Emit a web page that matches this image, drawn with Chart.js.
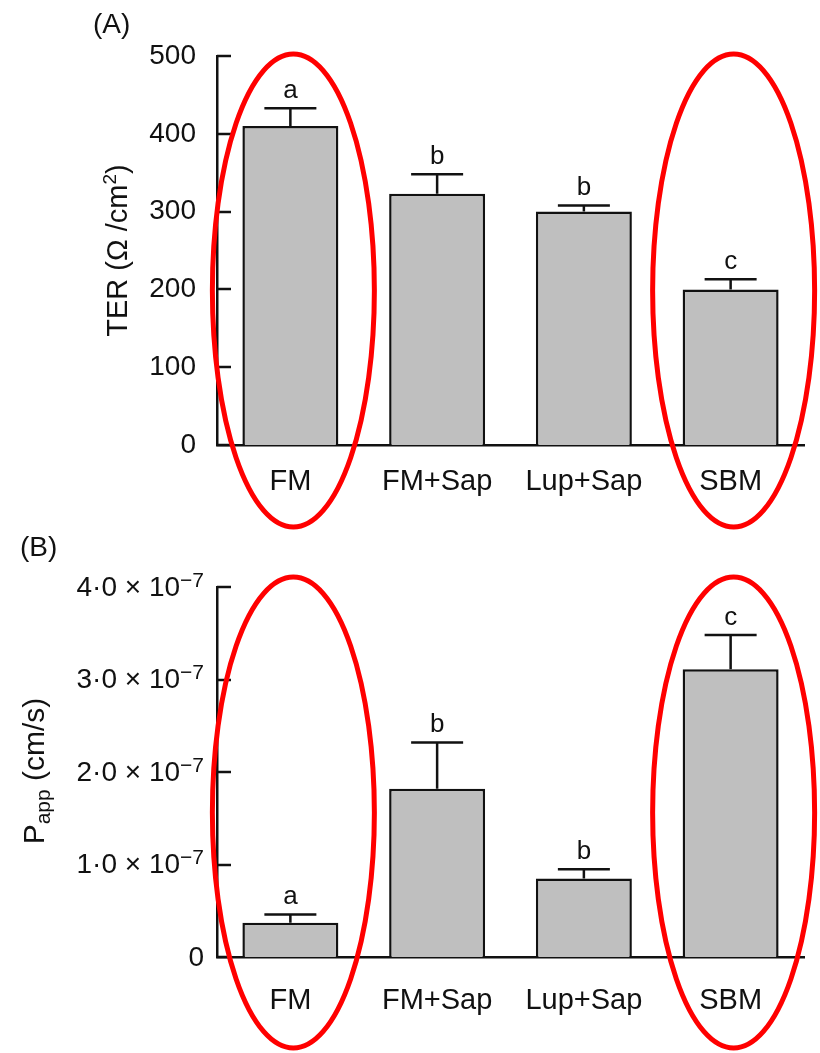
<!DOCTYPE html>
<html>
<head>
<meta charset="utf-8">
<script src="https://cdn.jsdelivr.net/npm/chart.js@4.4.1/dist/chart.umd.min.js"></script>
<style>
  html, body { margin: 0; padding: 0; background: #fff; }
  .panel { position: absolute; left: 0; }
  #panelA { top: 0; }
  #panelB { top: 530px; }
</style>
</head>
<body>
<div class="panel" id="panelA"><canvas id="chartA" width="820" height="530"></canvas></div>
<div class="panel" id="panelB"><canvas id="chartB" width="820" height="523"></canvas></div>
<script>
// categories and values
const categories = ['FM', 'FM+Sap', 'Lup+Sap', 'SBM'];

const terValues = [410, 323, 300, 200];
const terErrors = [23, 25, 8, 13];
const terLetters = ['a', 'b', 'b', 'c'];
const terTicks = ['0', '100', '200', '300', '400', '500'];

const pappValues = [0.37e-7, 1.82e-7, 0.85e-7, 3.11e-7];
const pappErrors = [0.09e-7, 0.50e-7, 0.10e-7, 0.37e-7];
const pappLetters = ['a', 'b', 'b', 'c'];
const pappTicks = ['0', '1·0', '2·0', '3·0', '4·0'];
const pappExponent = '−7';

// categories highlighted with a red ring
const ringed = ['FM', 'SBM'];

const FONT = "'Liberation Sans', Arial, Helvetica, sans-serif";
const INK = '#111';

Chart.defaults.font.family = FONT;
Chart.defaults.color = INK;

// draws the rich text pieces one after another (superscript / subscript)
const drawRuns = (ctx, runs, x, y, align) => {
  let total = 0;
  runs.forEach(r => {
    ctx.font = `${r.size}px ${FONT}`;
    r.w = ctx.measureText(r.text).width;
    total += r.w;
  });
  let cx = align === 'center' ? x - total / 2 : (align === 'right' ? x - total : x);
  ctx.textAlign = 'left';
  runs.forEach(r => {
    ctx.font = `${r.size}px ${FONT}`;
    ctx.fillText(r.text, cx, y + (r.dy || 0));
    cx += r.w;
  });
};

const decorPlugin = {
  id: 'decor',
  afterDatasetsDraw(chart, args, opts) {
    const ctx = chart.ctx;
    const y = chart.scales.y;
    const area = chart.chartArea;
    const meta = chart.getDatasetMeta(0);
    const values = chart.data.datasets[0].data;
    ctx.save();
    ctx.strokeStyle = INK;
    ctx.fillStyle = INK;
    ctx.lineWidth = 2.5;

    // error bars + significance letters
    meta.data.forEach((bar, i) => {
      const top = y.getPixelForValue(values[i] + opts.errors[i]);
      ctx.beginPath();
      ctx.moveTo(bar.x, bar.y);
      ctx.lineTo(bar.x, top);
      ctx.moveTo(bar.x - 26, top);
      ctx.lineTo(bar.x + 26, top);
      ctx.stroke();
      ctx.font = `26px ${FONT}`;
      ctx.textAlign = 'center';
      ctx.textBaseline = 'alphabetic';
      ctx.fillText(opts.letters[i], bar.x, top - 10);
    });

    // inward tick marks
    y.ticks.forEach(t => {
      const py = Math.round(y.getPixelForValue(t.value));
      ctx.beginPath();
      ctx.moveTo(area.left, py);
      ctx.lineTo(area.left + 14, py);
      ctx.stroke();
    });

    // tick labels with exponent (panel B)
    if (opts.exponent) {
      ctx.textBaseline = 'middle';
      y.ticks.forEach((t, i) => {
        const py = y.getPixelForValue(t.value);
        if (i === 0) {
          drawRuns(ctx, [{ text: opts.tickLabels[i], size: 28 }], 204, py + 1, 'right');
        } else {
          drawRuns(ctx, [
            { text: opts.tickLabels[i] + ' × 10', size: 28, dy: 1 },
            { text: opts.exponent, size: 21, dy: -6 }
          ], 204, py, 'right');
        }
      });
    }

    // axis title, rotated
    ctx.translate(opts.titleX, (area.top + area.bottom) / 2 + (opts.titleDy || 0));
    ctx.rotate(-Math.PI / 2);
    ctx.textBaseline = 'alphabetic';
    drawRuns(ctx, opts.titleRuns, 0, 0, 'center');
    ctx.restore();

    // panel letter
    ctx.save();
    ctx.fillStyle = INK;
    ctx.font = `28px ${FONT}`;
    ctx.textAlign = 'left';
    ctx.textBaseline = 'middle';
    ctx.fillText(opts.panel, opts.panelX, opts.panelY);
    ctx.restore();
  },
  afterDraw(chart, args, opts) {
    const ctx = chart.ctx;
    const x = chart.scales.x;
    const area = chart.chartArea;
    const top = area.top + opts.ringTop;
    const bottom = area.bottom + opts.ringBottom;
    ctx.save();
    ctx.strokeStyle = '#ff0000';
    ctx.lineWidth = 5;
    ringed.forEach(name => {
      const cx = x.getPixelForValue(categories.indexOf(name)) + 3;
      ctx.beginPath();
      ctx.ellipse(cx, (top + bottom) / 2, 81, (bottom - top) / 2, 0, 0, Math.PI * 2);
      ctx.stroke();
    });
    ctx.restore();
  }
};

const makeChart = (canvasId, cfg) => new Chart(document.getElementById(canvasId), {
  type: 'bar',
  data: {
    labels: categories,
    datasets: [{
      data: cfg.values,
      backgroundColor: '#bfbfbf',
      borderColor: INK,
      borderWidth: 2.5,
      barPercentage: 0.654,
      categoryPercentage: 1
    }]
  },
  options: {
    responsive: false,
    animation: false,
    layout: { padding: { top: cfg.padTop, right: 16, left: 0, bottom: 0 } },
    scales: {
      x: {
        grid: { display: false },
        border: { display: true, color: INK, width: 2.5 },
        ticks: { font: { size: 29 }, color: INK, padding: cfg.labelPad, maxRotation: 0 },
        afterFit: s => { s.height = cfg.xHeight; }
      },
      y: {
        min: 0,
        max: cfg.max,
        grid: { display: false },
        border: { display: true, color: INK, width: 2.5 },
        ticks: {
          display: !cfg.exponent,
          stepSize: cfg.step,
          font: { size: 28 },
          color: INK,
          padding: 13,
          callback: (v, i) => cfg.tickLabels[i]
        },
        afterFit: s => { s.width = 217; }
      }
    },
    plugins: {
      legend: { display: false },
      tooltip: { enabled: false },
      decor: {
        errors: cfg.errors,
        letters: cfg.letters,
        tickLabels: cfg.tickLabels,
        exponent: cfg.exponent,
        titleRuns: cfg.titleRuns,
        titleX: cfg.titleX,
        titleDy: cfg.titleDy,
        panel: cfg.panel,
        panelX: cfg.panelX,
        panelY: cfg.panelY,
        ringTop: cfg.ringTop,
        ringBottom: cfg.ringBottom
      }
    }
  },
  plugins: [decorPlugin]
});

makeChart('chartA', {
  values: terValues,
  errors: terErrors,
  letters: terLetters,
  tickLabels: terTicks,
  max: 500,
  step: 100,
  padTop: 56,
  xHeight: 85,
  labelPad: 12,
  titleRuns: [
    { text: 'TER (Ω /cm', size: 29 },
    { text: '2', size: 19, dy: -11 },
    { text: ')', size: 29 }
  ],
  titleX: 127,
  titleDy: 0,
  panel: '(A)',
  panelX: 93,
  panelY: 25,
  ringTop: -2,
  ringBottom: 82
});

makeChart('chartB', {
  values: pappValues,
  errors: pappErrors,
  letters: pappLetters,
  tickLabels: pappTicks,
  exponent: pappExponent,
  max: 4e-7,
  step: 1e-7,
  padTop: 57,
  xHeight: 96,
  labelPad: 19,
  titleRuns: [
    { text: 'P', size: 30 },
    { text: 'app', size: 21, dy: 6 },
    { text: ' (cm/s)', size: 30 }
  ],
  titleX: 44,
  titleDy: -1,
  panel: '(B)',
  panelX: 20,
  panelY: 18,
  ringTop: -10,
  ringBottom: 91
});
</script>
</body>
</html>
